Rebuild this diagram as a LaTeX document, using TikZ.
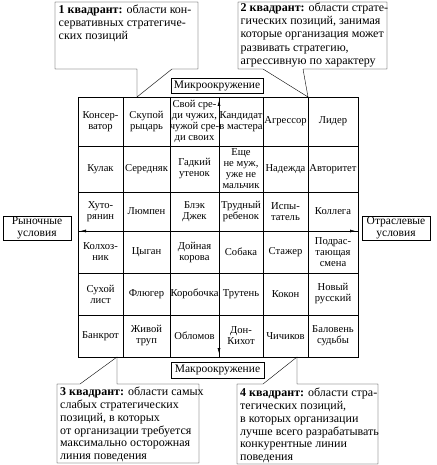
\documentclass[tikz,border=0pt]{standalone}
\usepackage{fontspec}
\setmainfont{Liberation Serif}
\usetikzlibrary{arrows.meta}

\tikzset{
  cell/.style={align=center, inner sep=1pt, font=\fontsize{10.6}{11}\selectfont},
  envbox/.style={draw, align=center, inner sep=0pt, font=\fontsize{11.5}{12}\selectfont},
  quadtext/.style={anchor=north west, align=left, inner sep=0pt, font=\fontsize{12}{12.8}\selectfont}
}

\begin{document}
\begin{tikzpicture}[x=1pt, y=-1pt, >={Latex[length=5pt,width=3pt]}]
\useasboundingbox (0,0) rectangle (436,465);

% callouts
\draw (172,69) -- (198,69) -- (198,2) -- (55,2) -- (55,69) -- (137,69) -- (137,97) -- cycle;
\draw (263,69) -- (238,69) -- (238,2) -- (387,2) -- (387,69) -- (303,69) -- (308,97) -- cycle;
\draw (80,384) -- (57,384) -- (57,463) -- (199,463) -- (199,384) -- (117,384) -- (117,357) -- cycle;
\draw (263,384) -- (237,384) -- (237,464) -- (378,464) -- (378,384) -- (297,384) -- (297,357) -- cycle;

\node[quadtext] (q1) at (58.5,5) {\textbf{1 квадрант:} области кон-\\сервативных стратегиче-\\ских позиций};
\node[quadtext, font=\fontsize{12}{13.3}\selectfont] (q2) at (240.5,2.5) {\textbf{2 квадрант:} области страте-\\гических позиций, занимая\\которые организация может\\развивать стратегию,\\агрессивную по характеру};
\node[quadtext] (q3) at (60,387) {\textbf{3 квадрант:} области самых\\слабых стратегических\\позиций, в которых\\от организации требуется\\максимально осторожная\\линия поведения};
\node[quadtext] (q4) at (240,388) {\textbf{4 квадрант:} области стра-\\тегических позиций,\\в которых организации\\лучше всего разрабатывать\\конкурентные линии\\поведения};

% environment labels
\node[envbox, minimum width=92pt, minimum height=15pt] (micro) at (217,85.5) {Микроокружение};
\node[envbox, minimum width=93pt, minimum height=16pt] (macro) at (217.5,370) {Макроокружение};
\node[envbox, minimum width=68pt, minimum height=24pt] (market) at (37,228) {Рыночные\\условия};
\node[envbox, minimum width=68pt, minimum height=24pt] (branch) at (396,228) {Отраслевые\\условия};

% grid
\draw (78,97) rectangle (358,357);
\foreach \x in {123,170,219,263,308} \draw (\x,97) -- (\x,357);
\foreach \y in {146,192,231,273,315} \draw (78,\y) -- (358,\y);

% row 1
\node[cell] (c11) at (100.5,121.5) {Консер-\\ватор};
\node[cell] (c12) at (146.5,121.5) {Скупой\\рыцарь};
\node[cell] (c13) at (194.5,121.5) {Свой сре-\\ди чужих,\\чужой сре-\\ди своих};
\node[cell] (c14) at (241,121.5) {Кандидат\\в мастера};
\node[cell] (c15) at (285.5,121.5) {Агрессор};
\node[cell] (c16) at (333,121.5) {Лидер};
% row 2
\node[cell] (c21) at (100.5,169) {Кулак};
\node[cell] (c22) at (146.5,169) {Середняк};
\node[cell] (c23) at (194.5,169) {Гадкий\\утенок};
\node[cell] (c24) at (241,169) {Еще\\не муж,\\уже не\\мальчик};
\node[cell] (c25) at (285.5,169) {Надежда};
\node[cell] (c26) at (333,169) {Авторитет};
% row 3
\node[cell] (c31) at (100.5,211.5) {Хуто-\\рянин};
\node[cell] (c32) at (146.5,211.5) {Люмпен};
\node[cell] (c33) at (194.5,211.5) {Блэк\\Джек};
\node[cell] (c34) at (241,211.5) {Трудный\\ребенок};
\node[cell] (c35) at (285.5,211.5) {Испы-\\татель};
\node[cell] (c36) at (333,211.5) {Коллега};
% row 4
\node[cell] (c41) at (100.5,252) {Колхоз-\\ник};
\node[cell] (c42) at (146.5,252) {Цыган};
\node[cell] (c43) at (194.5,252) {Дойная\\корова};
\node[cell] (c44) at (241,252) {Собака};
\node[cell] (c45) at (285.5,252) {Стажер};
\node[cell] (c46) at (333,252) {Подрас-\\тающая\\смена};
% row 5
\node[cell] (c51) at (100.5,294) {Сухой\\лист};
\node[cell] (c52) at (146.5,294) {Флюгер};
\node[cell] (c53) at (194.5,294) {Коробочка};
\node[cell] (c54) at (241,294) {Трутень};
\node[cell] (c55) at (285.5,294) {Кокон};
\node[cell] (c56) at (333,294) {Новый\\русский};
% row 6
\node[cell] (c61) at (100.5,336) {Банкрот};
\node[cell] (c62) at (146.5,336) {Живой\\труп};
\node[cell] (c63) at (194.5,336) {Обломов};
\node[cell] (c64) at (241,336) {Дон-\\Кихот};
\node[cell] (c65) at (285.5,336) {Чичиков};
\node[cell] (c66) at (333,336) {Баловень\\судьбы};

% axes
\coordinate (ntop) at (219,101);
\coordinate (nbot) at (219,353);
\coordinate (wend) at (81,231);
\coordinate (eend) at (355,231);
\draw[<->] (nbot) -- (ntop);
\draw[<->] (wend) -- (eend);
\end{tikzpicture}
\end{document}
